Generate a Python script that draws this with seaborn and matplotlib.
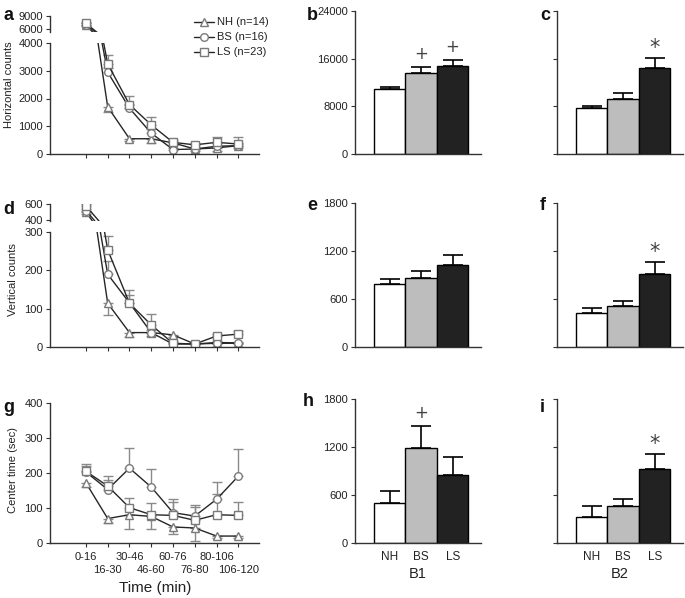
import numpy as np
import pandas as pd
import seaborn as sns
from matplotlib import pyplot as plt

# ---- data ----
times = ["0-16", "16-30", "30-46", "46-60", "60-76", "76-80", "80-106", "106-120"]
groups = ["NH", "BS", "LS"]
legend_labels = ["NH (n=14)", "BS (n=16)", "LS (n=23)"]

# horizontal counts per time bin
horiz_nh = [6900, 1700, 550, 550, 400, 180, 220, 300]
horiz_bs = [7000, 2950, 1650, 750, 160, 180, 280, 300]
horiz_ls = [7300, 3250, 1780, 1050, 420, 330, 420, 360]
horiz_nh_err = [300, 200, 80, 150, 80, 60, 100, 80]
horiz_bs_err = [300, 150, 150, 150, 60, 60, 100, 100]
horiz_ls_err = [300, 300, 320, 300, 100, 80, 200, 240]

# vertical counts per time bin
vert_nh = [500, 114, 37, 37, 31, 7, 9, 9]
vert_bs = [520, 190, 115, 37, 7, 7, 11, 10]
vert_ls = [580, 254, 114, 57, 9, 7, 28, 33]
vert_nh_err = [20, 30, 12, 8, 6, 3, 3, 3]
vert_bs_err = [20, 35, 20, 8, 3, 3, 3, 3]
vert_ls_err = [20, 36, 35, 29, 5, 4, 6, 8]

# center time per time bin
center_nh = [171, 69, 80, 75, 45, 42, 19, 19]
center_bs = [202, 152, 213, 159, 86, 76, 124, 190]
center_ls = [204, 162, 100, 80, 78, 64, 80, 78]
center_nh_err = [11, 14, 40, 35, 20, 37, 5, 5]
center_bs_err = [23, 38, 57, 51, 40, 31, 49, 79]
center_ls_err = [15, 18, 27, 34, 37, 38, 60, 37]

# block totals (B1 / B2)
b1_horiz = [10900, 13640, 14800]
b1_horiz_err = [330, 950, 950]
b2_horiz = [7700, 9250, 14480]
b2_horiz_err = [390, 950, 1560]
b1_vert = [783, 862, 1025]
b1_vert_err = [63, 88, 125]
b2_vert = [417, 508, 904]
b2_vert_err = [71, 59, 154]
b1_center = [493, 1186, 848]
b1_center_err = [154, 275, 229]
b2_center = [326, 463, 919]
b2_center_err = [137, 80, 192]

b1_horiz_marks = ["", "+", "+"]
b2_horiz_marks = ["", "", "*"]
b1_vert_marks = ["", "", ""]
b2_vert_marks = ["", "", "*"]
b1_center_marks = ["", "+", ""]
b2_center_marks = ["", "", "*"]

# ---- style ----
sns.set_style("ticks")
plt.rcParams['font.family'] = ['Liberation Sans', 'DejaVu Sans']
plt.rcParams['font.size'] = 8
TXT = "#222222"
AX = "#333333"
bar_colors = {"NH": "white", "BS": "#bdbdbd", "LS": "#222222"}
markers = {"NH": "^", "BS": "o", "LS": "s"}

W, H = 685, 598
fig = plt.figure(figsize=(W / 100, H / 100), dpi=100)


def px_axes(x0, x1, yt, yb):
    return fig.add_axes([x0 / W, 1 - yb / H, (x1 - x0) / W, (yb - yt) / H])


def style_axes(ax):
    sns.despine(ax=ax)
    for s in ["left", "bottom"]:
        ax.spines[s].set_color(AX)
        ax.spines[s].set_linewidth(1)
    ax.tick_params(direction="out", length=3, width=0.8, color=AX,
                   labelsize=8, labelcolor=TXT, pad=2)
    ax.set_facecolor("none")


def draw_lines(ax, series, errs, with_label=False):
    x = np.arange(len(times))
    for g, lab in zip(groups, legend_labels):
        vals = np.array(series[g])
        err = np.array(errs[g])
        zero = np.zeros_like(err)
        yerr = [err, zero] if g == "NH" else [zero, err]
        ax.errorbar(x, vals, yerr=yerr, fmt="none", ecolor="#8a8a8a",
                    elinewidth=1, capsize=3.5, capthick=1, zorder=1)
        sns.lineplot(x=x, y=vals, ax=ax, color="#262626", linewidth=1,
                     marker=markers[g], markersize=5.5, markerfacecolor="white",
                     markeredgecolor="#7a7a7a", markeredgewidth=1,
                     label=lab if with_label else None, legend=False, zorder=2)
    ax.set_xlim(-1.65, 7.95)
    ax.set_xticks(x)
    ax.set_xlabel("")
    ax.set_ylabel("")


def line_panel(series, errs, yt, yb, ylim, yticks, top=None, with_label=False):
    ax = px_axes(50, 259, yt, yb)
    draw_lines(ax, series, errs, with_label)
    ax.set_ylim(*ylim)
    ax.set_yticks(yticks)
    style_axes(ax)
    if top is not None:
        t_yt, t_yb, t_ylim, t_ticks = top
        axt = px_axes(50, 259, t_yt, t_yb)
        draw_lines(axt, series, errs)
        axt.set_ylim(*t_ylim)
        axt.set_yticks(t_ticks)
        style_axes(axt)
        axt.spines["bottom"].set_visible(False)
        axt.tick_params(axis="x", bottom=False, labelbottom=False)
    return ax


def bar_panel(x0, yt, yb, means, sems, marks, ymax, yticks, show_ylabels,
              xlabel=None):
    ax = px_axes(x0, x0 + 126, yt, yb)
    df = pd.DataFrame({"group": groups, "value": means})
    sns.barplot(data=df, x="group", y="value", hue="group", palette=bar_colors,
                width=1.0, edgecolor="black", linewidth=1, legend=False,
                errorbar=None, ax=ax)
    ax.errorbar(range(3), means, yerr=[np.zeros(3), sems], fmt="none",
                ecolor="black", elinewidth=1.2, capsize=7, capthick=1.2,
                zorder=3)
    for i, m in enumerate(marks):
        if m:
            fs = 15 if m == "*" else 12
            off = 0.07 if m == "*" else 0.09
            ax.text(i, means[i] + sems[i] + off * ymax, m, ha="center",
                    va="center", fontsize=fs, color="#444444",
                    family=["DejaVu Sans"])
    ax.set_xlim(-1.1, 2.9)
    ax.set_ylim(0, ymax)
    ax.set_yticks(yticks)
    style_axes(ax)
    if not show_ylabels:
        ax.set_yticklabels([])
    ax.set_ylabel("")
    if xlabel is None:
        ax.set_xlabel("")
        ax.tick_params(axis="x", bottom=False, labelbottom=False)
    else:
        ax.tick_params(axis="x", bottom=False, labelsize=8.5, pad=3)
        ax.set_xlabel(xlabel, fontsize=10.5, color=TXT, labelpad=3)
    return ax


# ---- row 1: horizontal counts ----
ax_a = line_panel({"NH": horiz_nh, "BS": horiz_bs, "LS": horiz_ls},
                  {"NH": horiz_nh_err, "BS": horiz_bs_err, "LS": horiz_ls_err},
                  43, 154, (0, 4000), [0, 1000, 2000, 3000, 4000],
                  top=(16, 31.6, (5400, 9000), [6000, 9000]), with_label=True)
ax_a.tick_params(axis="x", labelbottom=False)
handles, labels = ax_a.get_legend_handles_labels()
fig.legend(handles, labels, loc="upper left", bbox_to_anchor=(190 / W, 1 - 13 / H),
           frameon=False, fontsize=8, handlelength=1.8, handletextpad=0.2,
           labelspacing=0.45, borderaxespad=0, labelcolor=TXT)

bar_panel(355, 10.7, 154.3, b1_horiz, b1_horiz_err, b1_horiz_marks, 24000,
          [0, 8000, 16000, 24000], True)
bar_panel(557, 10.7, 154.3, b2_horiz, b2_horiz_err, b2_horiz_marks, 24000,
          [0, 8000, 16000, 24000], False)

# ---- row 2: vertical counts ----
ax_d = line_panel({"NH": vert_nh, "BS": vert_bs, "LS": vert_ls},
                  {"NH": vert_nh_err, "BS": vert_bs_err, "LS": vert_ls_err},
                  232.3, 346.7, (0, 300), [0, 100, 200, 300],
                  top=(204.3, 221, (385, 600), [400, 600]))
ax_d.tick_params(axis="x", labelbottom=False)

bar_panel(355, 202.7, 346.7, b1_vert, b1_vert_err, b1_vert_marks, 1800,
          [0, 600, 1200, 1800], True)
bar_panel(557, 202.7, 346.7, b2_vert, b2_vert_err, b2_vert_marks, 1800,
          [0, 600, 1200, 1800], False)

# ---- row 3: center time ----
ax_g = line_panel({"NH": center_nh, "BS": center_bs, "LS": center_ls},
                  {"NH": center_nh_err, "BS": center_bs_err, "LS": center_ls_err},
                  402.7, 542.7, (0, 400), [0, 100, 200, 300, 400])
# staggered time labels: even bins on the first row, odd bins on the second
pos = np.arange(len(times))
ax_g.set_xticks(pos[::2], times[::2])
ax_g.set_xticks(pos[1::2], times[1::2], minor=True)
ax_g.tick_params(axis="x", which="major", pad=4, labelsize=8)
ax_g.tick_params(axis="x", which="minor", direction="out", length=3, width=0.8,
                 color=AX, pad=13, labelsize=8, labelcolor=TXT)
ax_g.set_xlabel("")
fig.text(155 / W, 1 - 588 / H, "Time (min)", ha="center", va="center",
         fontsize=11, color=TXT)

bar_panel(355, 399, 542.7, b1_center, b1_center_err, b1_center_marks, 1800,
          [0, 600, 1200, 1800], True, xlabel="B1")
bar_panel(557, 399, 542.7, b2_center, b2_center_err, b2_center_marks, 1800,
          [0, 600, 1200, 1800], False, xlabel="B2")

# ---- y labels and panel letters ----
fig.text(9 / W, 1 - 85 / H, "Horizontal counts", rotation=90, ha="center",
         va="center", fontsize=8, color=TXT)
fig.text(13 / W, 1 - 280 / H, "Vertical counts", rotation=90, ha="center",
         va="center", fontsize=8, color=TXT)
fig.text(13 / W, 1 - 470 / H, "Center time (sec)", rotation=90, ha="center",
         va="center", fontsize=8, color=TXT)

letters = [("a", 3, 16), ("b", 307, 16), ("c", 540, 16),
           ("d", 3, 210), ("e", 307, 205), ("f", 540, 205),
           ("g", 3, 407), ("h", 303, 402), ("i", 540, 407)]
for lt, lx, ly in letters:
    fig.text(lx / W, 1 - ly / H, lt, fontsize=13, fontweight="bold",
             ha="left", va="center", color="#111111")

fig.savefig("out.png", dpi=100)
